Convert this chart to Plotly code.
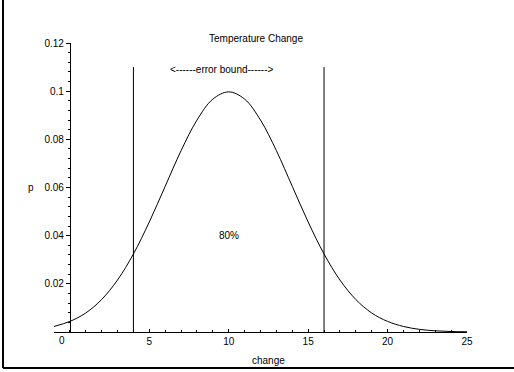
import plotly.graph_objects as go

# Data
change = [-1, 0, 1, 2, 3, 4, 5, 6, 7, 8, 9, 10, 11, 12, 13, 14, 15, 16, 17, 18, 19, 20, 21, 22, 23, 24, 25]
p = [0.0023, 0.0044, 0.0079, 0.0135, 0.0216, 0.0324, 0.0457, 0.0605, 0.0753, 0.0880, 0.0967, 0.0997,
     0.0967, 0.0880, 0.0753, 0.0605, 0.0457, 0.0324, 0.0216, 0.0135, 0.0079, 0.0044, 0.0023, 0.0011,
     0.0005, 0.0002, 0.0001]
bounds = [4, 16]
bound_height = 0.11
x_ticks = [0, 5, 10, 15, 20, 25]
x_ticktext = ["", "5", "10", "15", "20", "25"]
y_ticks = [0.02, 0.04, 0.06, 0.08, 0.10, 0.12]
y_ticktext = ["0.02", "0.04", "0.06", "0.08", "0.1", "0.12"]
x_minor = list(range(-1, 26))
y_minor = [i * 0.004 for i in range(0, 31)]

W, H = 514, 372
ml, mr, mt, mb = 54, 47, 43, 40
pw = W - ml - mr
ph = H - mt - mb

fig = go.Figure()
fig.add_trace(go.Scatter(x=change, y=p, mode="lines", line=dict(color="black", width=1, shape="spline"),
                         hoverinfo="skip", showlegend=False))
for b in bounds:
    fig.add_trace(go.Scatter(x=[b, b], y=[0, bound_height], mode="lines",
                             line=dict(color="black", width=1), showlegend=False, hoverinfo="skip"))

font = dict(family="Liberation Sans, Arial, Helvetica, sans-serif", size=10, color="black")

yaxis_pos = (0 - (-1)) / 26

fig.update_layout(
    width=W, height=H,
    margin=dict(l=ml, r=mr, t=mt, b=mb),
    paper_bgcolor="white", plot_bgcolor="white",
    font=font,
    title=dict(text="Temperature Change", x=256 / W, y=1 - 38 / H, xanchor="center", yanchor="middle",
               font=dict(size=10)),
    xaxis=dict(range=[-1, 25], showline=True, linecolor="black", linewidth=1, showgrid=False, zeroline=False,
               tickmode="array", tickvals=x_ticks, ticktext=x_ticktext, ticks="inside", ticklen=3,
               tickcolor="black", tickfont=dict(size=10),
               minor=dict(tickmode="array", tickvals=x_minor, ticks="inside", ticklen=2, tickcolor="black")),
    yaxis=dict(range=[0, 0.12], anchor="free", position=yaxis_pos, showline=True, linecolor="black",
               linewidth=1, showgrid=False, zeroline=False,
               tickmode="array", tickvals=y_ticks, ticktext=y_ticktext, ticks="outside", ticklen=4,
               tickcolor="black", tickfont=dict(size=10),
               minor=dict(tickmode="array", tickvals=y_minor, ticks="outside", ticklen=2, tickcolor="black")),
    annotations=[
        dict(text="<------error bound------>", x=9.6, y=0.109, xref="x", yref="y", showarrow=False,
             xanchor="center", yanchor="middle", font=dict(size=10)),
        dict(text="80%", x=10, y=0.04, xref="x", yref="y", showarrow=False,
             xanchor="center", yanchor="middle", font=dict(size=10)),
        dict(text="0", x=-0.5, y=0, xref="x", yref="y", yshift=-8, showarrow=False,
             xanchor="center", yanchor="middle", font=dict(size=10)),
        dict(text="p", x=(31 - ml) / pw, y=(H - mb - 187) / ph, xref="paper", yref="paper", showarrow=False,
             xanchor="center", yanchor="middle", font=dict(size=10)),
        dict(text="change", x=(268 - ml) / pw, y=(H - mb - 360) / ph, xref="paper", yref="paper",
             showarrow=False, xanchor="center", yanchor="middle", font=dict(size=10)),
    ],
    shapes=[
        dict(type="line", xref="paper", yref="paper", x0=(3 - ml) / pw, x1=(3 - ml) / pw,
             y0=(H - mb - 368) / ph, y1=(H - mb - 0) / ph, line=dict(color="black", width=2)),
        dict(type="line", xref="paper", yref="paper", x0=(3 - ml) / pw, x1=(W - ml) / pw,
             y0=(H - mb - 368) / ph, y1=(H - mb - 368) / ph, line=dict(color="black", width=2)),
    ],
)

fig.write_html("out.html")
